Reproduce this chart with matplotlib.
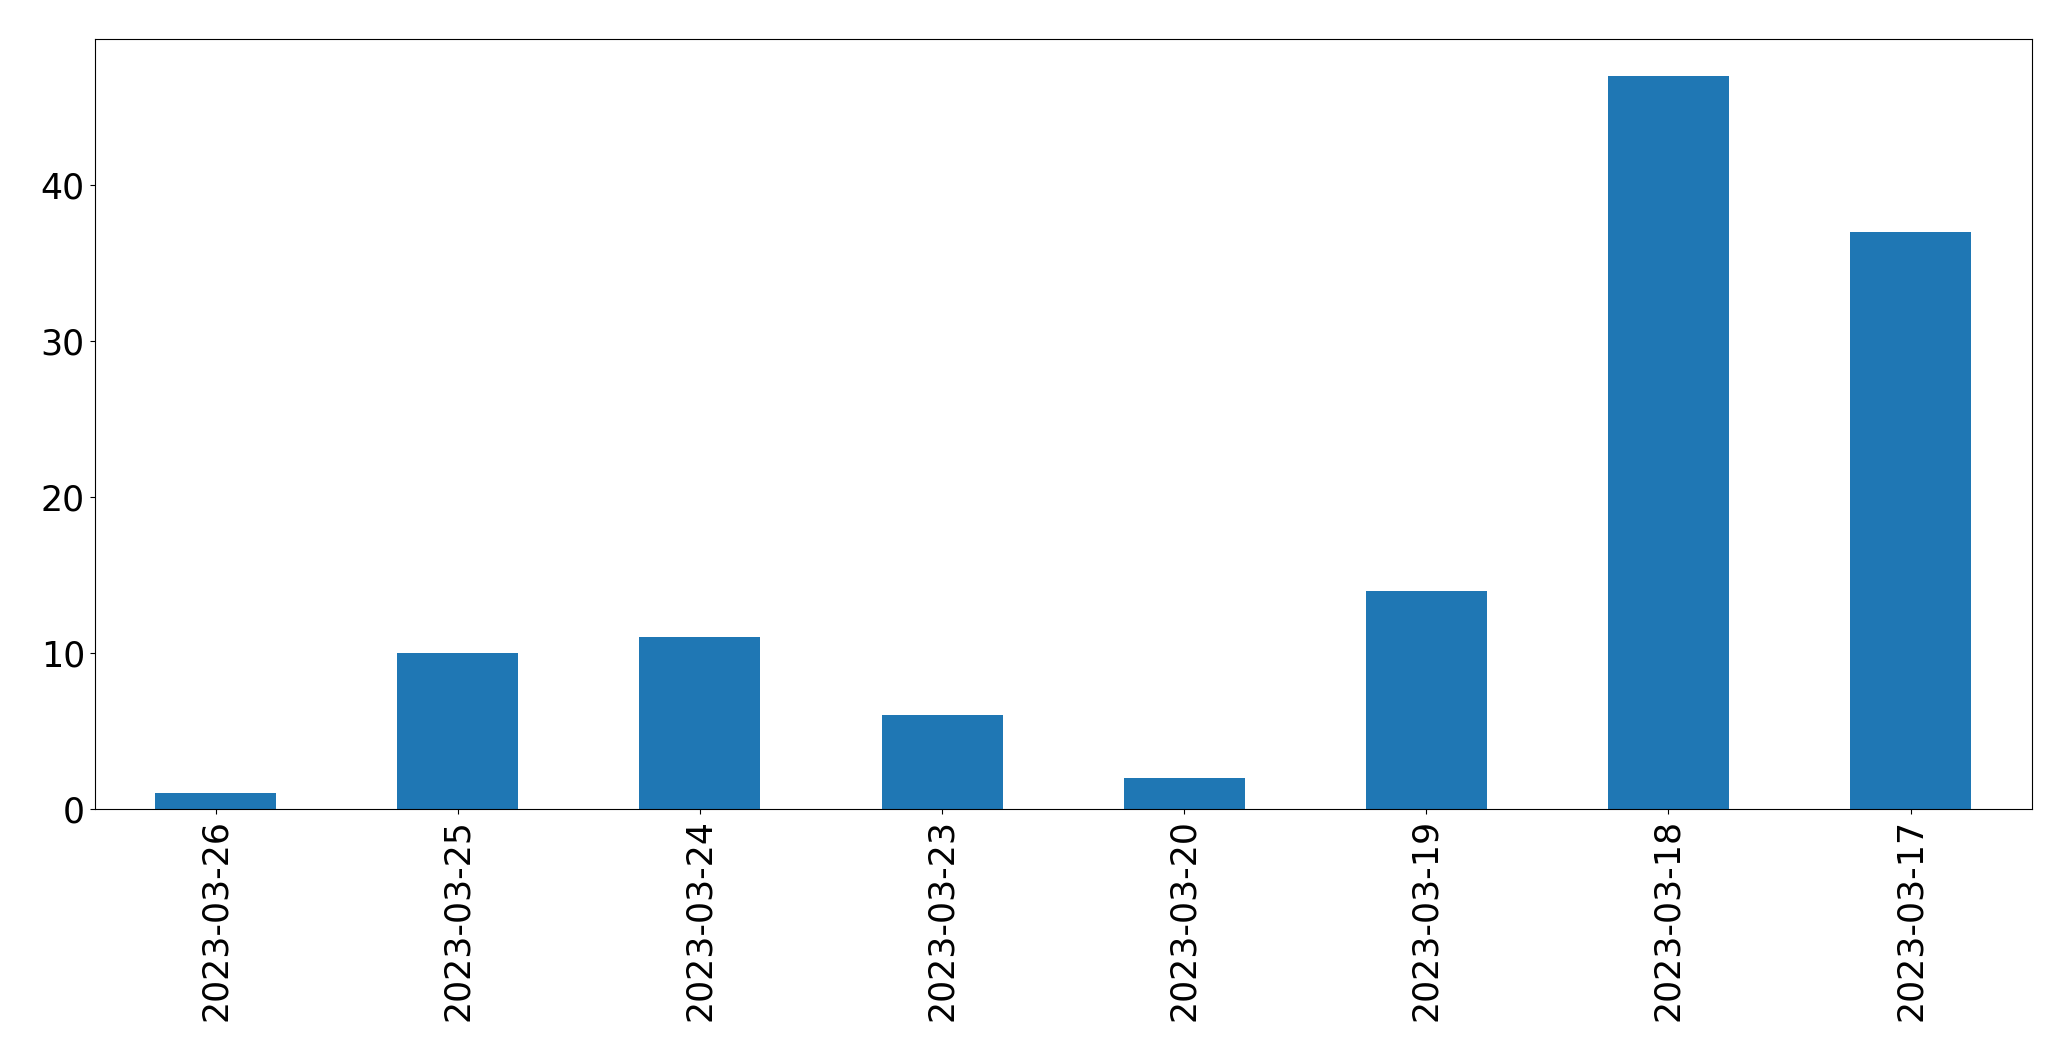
import matplotlib

matplotlib.use("Agg")
import matplotlib.pyplot as plt
import pandas as pd

# daily counts, in the order shown
dates = [
    "2023-03-26",
    "2023-03-25",
    "2023-03-24",
    "2023-03-23",
    "2023-03-20",
    "2023-03-19",
    "2023-03-18",
    "2023-03-17",
]
counts = [1, 10, 11, 6, 2, 14, 47, 37]


def main() -> None:
    series = pd.Series(counts, index=dates)
    fig, ax = plt.subplots(figsize=(20.71, 10.61), dpi=100)
    series.plot.bar(ax=ax, color="#1f77b4", fontsize=25)
    ax.set_xlabel("")
    fig.subplots_adjust(left=0.0457, right=0.981, bottom=0.2375, top=0.9632)
    fig.savefig("out.png", dpi=100)
    plt.close(fig)


if __name__ == "__main__":
    main()
